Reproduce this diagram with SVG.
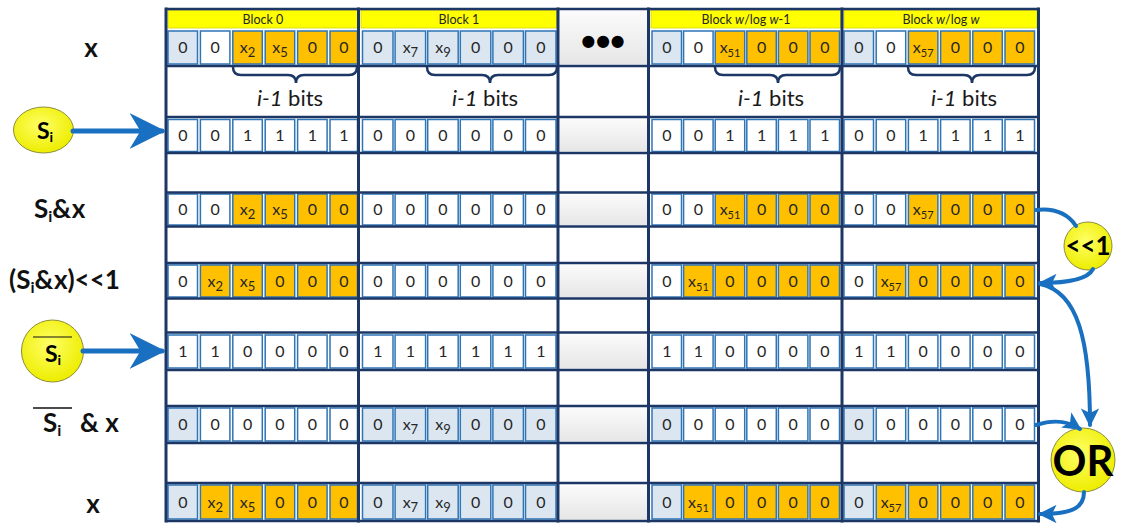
<svg xmlns="http://www.w3.org/2000/svg" width="1128" height="523" viewBox="0 0 1128 523">
<style>
.row rect{stroke:#2e75b6;stroke-width:1.5}
.c{fill:#fff}.b{fill:#dce6f1}.o{fill:#ffc000}
.row text{font-family:Lato,"Liberation Sans",sans-serif;font-size:16px;fill:#262626;text-anchor:middle}
.sub{font-size:13px}
.sub2{font-size:11px}
.hdr rect{fill:#ffff00;stroke:#d4d400;stroke-width:0.8}
.hdr text{font-family:Lato,"Liberation Sans",sans-serif;font-size:12.5px;fill:#262626;text-anchor:middle}
.nv{stroke:#1c3766;stroke-width:3;fill:none}
.nh{stroke:#1c3766;stroke-width:2.5;fill:none}
.el{fill:url(#gray);stroke:none}
.brace{stroke:#1c3766;stroke-width:2.5;fill:none}
.bits{font-family:Lato,"Liberation Sans",sans-serif;font-size:22px;fill:#1a1a1a;text-anchor:middle}
.lbl{font-family:Lato,"Liberation Sans",sans-serif;font-size:26px;font-weight:bold;fill:#111}
.circ{fill:url(#yel);stroke:#8c8c3c;stroke-width:1}
.ct{font-family:Lato,"Liberation Sans",sans-serif;font-weight:bold;fill:#000;text-anchor:middle}
.con{stroke:#1a70c0;fill:none;stroke-linecap:round}
</style>
<defs>
<linearGradient id="gray" x1="0" y1="0" x2="0" y2="1"><stop offset="0" stop-color="#fbfbfb"/><stop offset="1" stop-color="#e6e6e6"/></linearGradient>
<radialGradient id="yel" cx="0.45" cy="0.4" r="0.6"><stop offset="0" stop-color="#ffff66"/><stop offset="1" stop-color="#eded00"/></radialGradient>
<marker id="stealth" viewBox="0 0 10 10" refX="9" refY="5" markerWidth="7.2" markerHeight="7.2" orient="auto" markerUnits="strokeWidth"><path d="M0,0 L10,5 L0,10 L3,5 z" fill="#1a70c0"/></marker>
<marker id="tri" viewBox="0 0 10 10" refX="9" refY="5" markerWidth="4.6" markerHeight="4.6" orient="auto" markerUnits="strokeWidth"><path d="M0,0 L10,5 L0,10 L2.5,5 z" fill="#1a70c0"/></marker>
</defs>
<rect width="1128" height="523" fill="#fff"/>

<g id="headers" class="hdr">
<rect x="168" y="10.5" width="189.5" height="17.5"/><text x="263" y="24">Block 0</text>
<rect x="361" y="10.5" width="195.5" height="17.5"/><text x="459" y="24">Block 1</text>
<rect x="651" y="10.5" width="189.5" height="17.5"/><text x="746" y="24">Block <tspan font-style="italic">w</tspan>/log <tspan font-style="italic">w</tspan>-1</text>
<rect x="844" y="10.5" width="193" height="17.5"/><text x="941" y="24">Block <tspan font-style="italic">w</tspan>/log <tspan font-style="italic">w</tspan></text>
</g>

<g id="ellipsis">
<rect class="el" x="560" y="10.5" width="87" height="54"/>
<text x="603" y="56" font-family="Liberation Sans,sans-serif" font-size="42" font-weight="bold" fill="#000" text-anchor="middle">•••</text>
<rect class="el" x="560" y="118.5" width="87" height="33"/>
<rect class="el" x="560" y="193.5" width="87" height="32"/>
<rect class="el" x="560" y="264.5" width="87" height="33"/>
<rect class="el" x="560" y="333.5" width="87" height="35"/>
<rect class="el" x="560" y="407.5" width="87" height="34"/>
<rect class="el" x="560" y="484.5" width="87" height="35"/>
</g>

<g id="row-x" class="row" transform="translate(0,31)">
<rect class="b" x="168" width="29.5" height="33"/><text x="182.8" y="22">0</text>
<rect class="c" x="200.4" width="29.5" height="33"/><text x="215.2" y="22">0</text>
<rect class="o" x="232.8" width="29.5" height="33"/><text x="247.6" y="22">x<tspan class="sub" dy="4">2</tspan></text>
<rect class="o" x="265.2" width="29.5" height="33"/><text x="280" y="22">x<tspan class="sub" dy="4">5</tspan></text>
<rect class="o" x="297.6" width="29.5" height="33"/><text x="312.4" y="22">0</text>
<rect class="o" x="330" width="27.5" height="33"/><text x="343.8" y="22">0</text>
<rect class="b" x="362.5" width="30.5" height="33"/><text x="377.8" y="22">0</text>
<rect class="b" x="395.1" width="30.5" height="33"/><text x="410.4" y="22">x<tspan class="sub" dy="4">7</tspan></text>
<rect class="b" x="427.7" width="30.5" height="33"/><text x="443" y="22">x<tspan class="sub" dy="4">9</tspan></text>
<rect class="b" x="460.3" width="30.5" height="33"/><text x="475.6" y="22">0</text>
<rect class="b" x="492.9" width="30.5" height="33"/><text x="508.2" y="22">0</text>
<rect class="b" x="525.5" width="30.5" height="33"/><text x="540.8" y="22">0</text>
<rect class="b" x="652" width="29.5" height="33"/><text x="666.8" y="22">0</text>
<rect class="c" x="683.6" width="29.5" height="33"/><text x="698.4" y="22">0</text>
<rect class="o" x="715.2" width="29.5" height="33"/><text x="730" y="22">x<tspan class="sub2" dy="4">51</tspan></text>
<rect class="o" x="746.8" width="29.5" height="33"/><text x="761.6" y="22">0</text>
<rect class="o" x="778.4" width="29.5" height="33"/><text x="793.2" y="22">0</text>
<rect class="o" x="810" width="29.5" height="33"/><text x="824.8" y="22">0</text>
<rect class="b" x="844" width="29.5" height="33"/><text x="858.8" y="22">0</text>
<rect class="c" x="876.2" width="29.5" height="33"/><text x="891" y="22">0</text>
<rect class="o" x="908.4" width="29.5" height="33"/><text x="923.2" y="22">x<tspan class="sub2" dy="4">57</tspan></text>
<rect class="o" x="940.6" width="29.5" height="33"/><text x="955.4" y="22">0</text>
<rect class="o" x="972.8" width="29.5" height="33"/><text x="987.6" y="22">0</text>
<rect class="o" x="1005" width="29.5" height="33"/><text x="1019.8" y="22">0</text>
</g>

<g id="braces">
<path class="brace" d="M233,67 Q233,75 241,75 L288,75 Q296,75 296,83 Q296,75 304,75 L349,75 Q357,75 357,67"/>
<path class="brace" d="M427,67 Q427,75 435,75 L482,75 Q490,75 490,83 Q490,75 498,75 L549,75 Q557,75 557,67"/>
<path class="brace" d="M715,67 Q715,75 723,75 L770,75 Q778,75 778,83 Q778,75 786,75 L832,75 Q840,75 840,67"/>
<path class="brace" d="M908,67 Q908,75 916,75 L964,75 Q972,75 972,83 Q972,75 980,75 L1027,75 Q1035,75 1035,67"/>
<text class="bits" x="290" y="106"><tspan font-style="italic">i-1</tspan> bits</text>
<text class="bits" x="485" y="106"><tspan font-style="italic">i-1</tspan> bits</text>
<text class="bits" x="771" y="106"><tspan font-style="italic">i-1</tspan> bits</text>
<text class="bits" x="964" y="106"><tspan font-style="italic">i-1</tspan> bits</text>
</g>

<g id="row-si" class="row" transform="translate(0,119.5)">
<rect class="c" x="168" width="29.5" height="32"/><text x="182.8" y="21.5">0</text>
<rect class="c" x="200.4" width="29.5" height="32"/><text x="215.2" y="21.5">0</text>
<rect class="c" x="232.8" width="29.5" height="32"/><text x="247.6" y="21.5">1</text>
<rect class="c" x="265.2" width="29.5" height="32"/><text x="280" y="21.5">1</text>
<rect class="c" x="297.6" width="29.5" height="32"/><text x="312.4" y="21.5">1</text>
<rect class="c" x="330" width="27.5" height="32"/><text x="343.8" y="21.5">1</text>
<rect class="c" x="362.5" width="30.5" height="32"/><text x="377.8" y="21.5">0</text>
<rect class="c" x="395.1" width="30.5" height="32"/><text x="410.4" y="21.5">0</text>
<rect class="c" x="427.7" width="30.5" height="32"/><text x="443" y="21.5">0</text>
<rect class="c" x="460.3" width="30.5" height="32"/><text x="475.6" y="21.5">0</text>
<rect class="c" x="492.9" width="30.5" height="32"/><text x="508.2" y="21.5">0</text>
<rect class="c" x="525.5" width="30.5" height="32"/><text x="540.8" y="21.5">0</text>
<rect class="c" x="652" width="29.5" height="32"/><text x="666.8" y="21.5">0</text>
<rect class="c" x="683.6" width="29.5" height="32"/><text x="698.4" y="21.5">0</text>
<rect class="c" x="715.2" width="29.5" height="32"/><text x="730" y="21.5">1</text>
<rect class="c" x="746.8" width="29.5" height="32"/><text x="761.6" y="21.5">1</text>
<rect class="c" x="778.4" width="29.5" height="32"/><text x="793.2" y="21.5">1</text>
<rect class="c" x="810" width="29.5" height="32"/><text x="824.8" y="21.5">1</text>
<rect class="c" x="844" width="29.5" height="32"/><text x="858.8" y="21.5">0</text>
<rect class="c" x="876.2" width="29.5" height="32"/><text x="891" y="21.5">0</text>
<rect class="c" x="908.4" width="29.5" height="32"/><text x="923.2" y="21.5">1</text>
<rect class="c" x="940.6" width="29.5" height="32"/><text x="955.4" y="21.5">1</text>
<rect class="c" x="972.8" width="29.5" height="32"/><text x="987.6" y="21.5">1</text>
<rect class="c" x="1005" width="29.5" height="32"/><text x="1019.8" y="21.5">1</text>
</g>

<g id="row-si-and-x" class="row" transform="translate(0,194)">
<rect class="c" x="168" width="29.5" height="31"/><text x="182.8" y="21">0</text>
<rect class="c" x="200.4" width="29.5" height="31"/><text x="215.2" y="21">0</text>
<rect class="o" x="232.8" width="29.5" height="31"/><text x="247.6" y="21">x<tspan class="sub" dy="4">2</tspan></text>
<rect class="o" x="265.2" width="29.5" height="31"/><text x="280" y="21">x<tspan class="sub" dy="4">5</tspan></text>
<rect class="o" x="297.6" width="29.5" height="31"/><text x="312.4" y="21">0</text>
<rect class="o" x="330" width="27.5" height="31"/><text x="343.8" y="21">0</text>
<rect class="c" x="362.5" width="30.5" height="31"/><text x="377.8" y="21">0</text>
<rect class="c" x="395.1" width="30.5" height="31"/><text x="410.4" y="21">0</text>
<rect class="c" x="427.7" width="30.5" height="31"/><text x="443" y="21">0</text>
<rect class="c" x="460.3" width="30.5" height="31"/><text x="475.6" y="21">0</text>
<rect class="c" x="492.9" width="30.5" height="31"/><text x="508.2" y="21">0</text>
<rect class="c" x="525.5" width="30.5" height="31"/><text x="540.8" y="21">0</text>
<rect class="c" x="652" width="29.5" height="31"/><text x="666.8" y="21">0</text>
<rect class="c" x="683.6" width="29.5" height="31"/><text x="698.4" y="21">0</text>
<rect class="o" x="715.2" width="29.5" height="31"/><text x="730" y="21">x<tspan class="sub2" dy="4">51</tspan></text>
<rect class="o" x="746.8" width="29.5" height="31"/><text x="761.6" y="21">0</text>
<rect class="o" x="778.4" width="29.5" height="31"/><text x="793.2" y="21">0</text>
<rect class="o" x="810" width="29.5" height="31"/><text x="824.8" y="21">0</text>
<rect class="c" x="844" width="29.5" height="31"/><text x="858.8" y="21">0</text>
<rect class="c" x="876.2" width="29.5" height="31"/><text x="891" y="21">0</text>
<rect class="o" x="908.4" width="29.5" height="31"/><text x="923.2" y="21">x<tspan class="sub2" dy="4">57</tspan></text>
<rect class="o" x="940.6" width="29.5" height="31"/><text x="955.4" y="21">0</text>
<rect class="o" x="972.8" width="29.5" height="31"/><text x="987.6" y="21">0</text>
<rect class="o" x="1005" width="29.5" height="31"/><text x="1019.8" y="21">0</text>
</g>

<g id="row-shift" class="row" transform="translate(0,265)">
<rect class="c" x="168" width="29.5" height="32"/><text x="182.8" y="21.5">0</text>
<rect class="o" x="200.4" width="29.5" height="32"/><text x="215.2" y="21.5">x<tspan class="sub" dy="4">2</tspan></text>
<rect class="o" x="232.8" width="29.5" height="32"/><text x="247.6" y="21.5">x<tspan class="sub" dy="4">5</tspan></text>
<rect class="o" x="265.2" width="29.5" height="32"/><text x="280" y="21.5">0</text>
<rect class="o" x="297.6" width="29.5" height="32"/><text x="312.4" y="21.5">0</text>
<rect class="o" x="330" width="27.5" height="32"/><text x="343.8" y="21.5">0</text>
<rect class="c" x="362.5" width="30.5" height="32"/><text x="377.8" y="21.5">0</text>
<rect class="c" x="395.1" width="30.5" height="32"/><text x="410.4" y="21.5">0</text>
<rect class="c" x="427.7" width="30.5" height="32"/><text x="443" y="21.5">0</text>
<rect class="c" x="460.3" width="30.5" height="32"/><text x="475.6" y="21.5">0</text>
<rect class="c" x="492.9" width="30.5" height="32"/><text x="508.2" y="21.5">0</text>
<rect class="c" x="525.5" width="30.5" height="32"/><text x="540.8" y="21.5">0</text>
<rect class="c" x="652" width="29.5" height="32"/><text x="666.8" y="21.5">0</text>
<rect class="o" x="683.6" width="29.5" height="32"/><text x="698.4" y="21.5">x<tspan class="sub2" dy="4">51</tspan></text>
<rect class="o" x="715.2" width="29.5" height="32"/><text x="730" y="21.5">0</text>
<rect class="o" x="746.8" width="29.5" height="32"/><text x="761.6" y="21.5">0</text>
<rect class="o" x="778.4" width="29.5" height="32"/><text x="793.2" y="21.5">0</text>
<rect class="o" x="810" width="29.5" height="32"/><text x="824.8" y="21.5">0</text>
<rect class="c" x="844" width="29.5" height="32"/><text x="858.8" y="21.5">0</text>
<rect class="o" x="876.2" width="29.5" height="32"/><text x="891" y="21.5">x<tspan class="sub2" dy="4">57</tspan></text>
<rect class="o" x="908.4" width="29.5" height="32"/><text x="923.2" y="21.5">0</text>
<rect class="o" x="940.6" width="29.5" height="32"/><text x="955.4" y="21.5">0</text>
<rect class="o" x="972.8" width="29.5" height="32"/><text x="987.6" y="21.5">0</text>
<rect class="o" x="1005" width="29.5" height="32"/><text x="1019.8" y="21.5">0</text>
</g>

<g id="row-not-si" class="row" transform="translate(0,335)">
<rect class="c" x="168" width="29.5" height="33"/><text x="182.8" y="22">1</text>
<rect class="c" x="200.4" width="29.5" height="33"/><text x="215.2" y="22">1</text>
<rect class="c" x="232.8" width="29.5" height="33"/><text x="247.6" y="22">0</text>
<rect class="c" x="265.2" width="29.5" height="33"/><text x="280" y="22">0</text>
<rect class="c" x="297.6" width="29.5" height="33"/><text x="312.4" y="22">0</text>
<rect class="c" x="330" width="27.5" height="33"/><text x="343.8" y="22">0</text>
<rect class="c" x="362.5" width="30.5" height="33"/><text x="377.8" y="22">1</text>
<rect class="c" x="395.1" width="30.5" height="33"/><text x="410.4" y="22">1</text>
<rect class="c" x="427.7" width="30.5" height="33"/><text x="443" y="22">1</text>
<rect class="c" x="460.3" width="30.5" height="33"/><text x="475.6" y="22">1</text>
<rect class="c" x="492.9" width="30.5" height="33"/><text x="508.2" y="22">1</text>
<rect class="c" x="525.5" width="30.5" height="33"/><text x="540.8" y="22">1</text>
<rect class="c" x="652" width="29.5" height="33"/><text x="666.8" y="22">1</text>
<rect class="c" x="683.6" width="29.5" height="33"/><text x="698.4" y="22">1</text>
<rect class="c" x="715.2" width="29.5" height="33"/><text x="730" y="22">0</text>
<rect class="c" x="746.8" width="29.5" height="33"/><text x="761.6" y="22">0</text>
<rect class="c" x="778.4" width="29.5" height="33"/><text x="793.2" y="22">0</text>
<rect class="c" x="810" width="29.5" height="33"/><text x="824.8" y="22">0</text>
<rect class="c" x="844" width="29.5" height="33"/><text x="858.8" y="22">1</text>
<rect class="c" x="876.2" width="29.5" height="33"/><text x="891" y="22">1</text>
<rect class="c" x="908.4" width="29.5" height="33"/><text x="923.2" y="22">0</text>
<rect class="c" x="940.6" width="29.5" height="33"/><text x="955.4" y="22">0</text>
<rect class="c" x="972.8" width="29.5" height="33"/><text x="987.6" y="22">0</text>
<rect class="c" x="1005" width="29.5" height="33"/><text x="1019.8" y="22">0</text>
</g>

<g id="row-not-si-and-x" class="row" transform="translate(0,408)">
<rect class="b" x="168" width="29.5" height="33"/><text x="182.8" y="22">0</text>
<rect class="c" x="200.4" width="29.5" height="33"/><text x="215.2" y="22">0</text>
<rect class="c" x="232.8" width="29.5" height="33"/><text x="247.6" y="22">0</text>
<rect class="c" x="265.2" width="29.5" height="33"/><text x="280" y="22">0</text>
<rect class="c" x="297.6" width="29.5" height="33"/><text x="312.4" y="22">0</text>
<rect class="c" x="330" width="27.5" height="33"/><text x="343.8" y="22">0</text>
<rect class="b" x="362.5" width="30.5" height="33"/><text x="377.8" y="22">0</text>
<rect class="b" x="395.1" width="30.5" height="33"/><text x="410.4" y="22">x<tspan class="sub" dy="4">7</tspan></text>
<rect class="b" x="427.7" width="30.5" height="33"/><text x="443" y="22">x<tspan class="sub" dy="4">9</tspan></text>
<rect class="b" x="460.3" width="30.5" height="33"/><text x="475.6" y="22">0</text>
<rect class="b" x="492.9" width="30.5" height="33"/><text x="508.2" y="22">0</text>
<rect class="b" x="525.5" width="30.5" height="33"/><text x="540.8" y="22">0</text>
<rect class="b" x="652" width="29.5" height="33"/><text x="666.8" y="22">0</text>
<rect class="c" x="683.6" width="29.5" height="33"/><text x="698.4" y="22">0</text>
<rect class="c" x="715.2" width="29.5" height="33"/><text x="730" y="22">0</text>
<rect class="c" x="746.8" width="29.5" height="33"/><text x="761.6" y="22">0</text>
<rect class="c" x="778.4" width="29.5" height="33"/><text x="793.2" y="22">0</text>
<rect class="c" x="810" width="29.5" height="33"/><text x="824.8" y="22">0</text>
<rect class="b" x="844" width="29.5" height="33"/><text x="858.8" y="22">0</text>
<rect class="c" x="876.2" width="29.5" height="33"/><text x="891" y="22">0</text>
<rect class="c" x="908.4" width="29.5" height="33"/><text x="923.2" y="22">0</text>
<rect class="c" x="940.6" width="29.5" height="33"/><text x="955.4" y="22">0</text>
<rect class="c" x="972.8" width="29.5" height="33"/><text x="987.6" y="22">0</text>
<rect class="c" x="1005" width="29.5" height="33"/><text x="1019.8" y="22">0</text>
</g>

<g id="row-result" class="row" transform="translate(0,485)">
<rect class="b" x="168" width="29.5" height="34"/><text x="182.8" y="22.5">0</text>
<rect class="o" x="200.4" width="29.5" height="34"/><text x="215.2" y="22.5">x<tspan class="sub" dy="4">2</tspan></text>
<rect class="o" x="232.8" width="29.5" height="34"/><text x="247.6" y="22.5">x<tspan class="sub" dy="4">5</tspan></text>
<rect class="o" x="265.2" width="29.5" height="34"/><text x="280" y="22.5">0</text>
<rect class="o" x="297.6" width="29.5" height="34"/><text x="312.4" y="22.5">0</text>
<rect class="o" x="330" width="27.5" height="34"/><text x="343.8" y="22.5">0</text>
<rect class="b" x="362.5" width="30.5" height="34"/><text x="377.8" y="22.5">0</text>
<rect class="b" x="395.1" width="30.5" height="34"/><text x="410.4" y="22.5">x<tspan class="sub" dy="4">7</tspan></text>
<rect class="b" x="427.7" width="30.5" height="34"/><text x="443" y="22.5">x<tspan class="sub" dy="4">9</tspan></text>
<rect class="b" x="460.3" width="30.5" height="34"/><text x="475.6" y="22.5">0</text>
<rect class="b" x="492.9" width="30.5" height="34"/><text x="508.2" y="22.5">0</text>
<rect class="b" x="525.5" width="30.5" height="34"/><text x="540.8" y="22.5">0</text>
<rect class="b" x="652" width="29.5" height="34"/><text x="666.8" y="22.5">0</text>
<rect class="o" x="683.6" width="29.5" height="34"/><text x="698.4" y="22.5">x<tspan class="sub2" dy="4">51</tspan></text>
<rect class="o" x="715.2" width="29.5" height="34"/><text x="730" y="22.5">0</text>
<rect class="o" x="746.8" width="29.5" height="34"/><text x="761.6" y="22.5">0</text>
<rect class="o" x="778.4" width="29.5" height="34"/><text x="793.2" y="22.5">0</text>
<rect class="o" x="810" width="29.5" height="34"/><text x="824.8" y="22.5">0</text>
<rect class="b" x="844" width="29.5" height="34"/><text x="858.8" y="22.5">0</text>
<rect class="o" x="876.2" width="29.5" height="34"/><text x="891" y="22.5">x<tspan class="sub2" dy="4">57</tspan></text>
<rect class="o" x="908.4" width="29.5" height="34"/><text x="923.2" y="22.5">0</text>
<rect class="o" x="940.6" width="29.5" height="34"/><text x="955.4" y="22.5">0</text>
<rect class="o" x="972.8" width="29.5" height="34"/><text x="987.6" y="22.5">0</text>
<rect class="o" x="1005" width="29.5" height="34"/><text x="1019.8" y="22.5">0</text>
</g>

<g id="grid-lines">
<path class="nh" d="M166,9H1038.5M166,66H1038.5M166,117H1038.5M166,153H1038.5M166,192.5H1038.5M166,226.5H1038.5M166,263H1038.5M166,298.5H1038.5M166,332.5H1038.5M166,370H1038.5M166,406H1038.5M166,443H1038.5M166,483H1038.5M166,521H1038.5"/>
<path class="nv" d="M166,7.5V522.5M358.5,7.5V522.5M558,7.5V522.5M648.5,7.5V522.5M842,7.5V522.5M1038.5,7.5V522.5"/>
</g>

<g id="labels">
<text class="lbl" x="91" y="57" text-anchor="middle">x</text>
<text class="lbl" x="34" y="218">S<tspan font-size="16" dy="4">i</tspan><tspan dy="-4">&amp;x</tspan></text>
<text class="lbl" x="9" y="289">(S<tspan font-size="16" dy="4">i</tspan><tspan dy="-4">&amp;x)&lt;&lt;1</tspan></text>
<line x1="33" y1="408" x2="72" y2="408" stroke="#111" stroke-width="1.3"/>
<text class="lbl" x="43" y="432">S<tspan font-size="16" dy="4">i</tspan><tspan x="80" dy="-4">&amp; x</tspan></text>
<text class="lbl" x="93" y="513" text-anchor="middle">x</text>
</g>

<g id="node-si">
<ellipse class="circ" cx="43.5" cy="130" rx="30" ry="23"/>
<text class="ct" x="45" y="139" font-size="23">S<tspan font-size="14" dy="3">i</tspan></text>
</g>
<g id="node-not-si">
<circle class="circ" cx="52.5" cy="351" r="31"/>
<line x1="33" y1="337" x2="72" y2="337" stroke="#111" stroke-width="1.2"/>
<text class="ct" x="53" y="362" font-size="23">S<tspan font-size="14" dy="3">i</tspan></text>
</g>
<g id="node-shift">
<circle class="circ" cx="1088" cy="246" r="24"/>
<text class="ct" x="1088" y="255" font-size="26">&lt;&lt;1</text>
</g>
<g id="node-or">
<circle class="circ" cx="1083" cy="460" r="32"/>
<text class="ct" x="1083" y="476" font-size="42">OR</text>
</g>

<g id="connectors">
<path class="con" stroke-width="5" d="M73,131 H162" marker-end="url(#stealth)"/>
<path class="con" stroke-width="5" d="M83,351 H162" marker-end="url(#stealth)"/>
<path class="con" stroke-width="4" d="M1036,210 C1054,208 1068,214 1076,226"/>
<path class="con" stroke-width="4" d="M1093,269 C1088,279 1068,283 1040,283" marker-end="url(#tri)"/>
<path class="con" stroke-width="4" d="M1040,284 C1078,292 1090,340 1090,425" marker-end="url(#tri)"/>
<path class="con" stroke-width="4" d="M1036,425 C1055,419 1068,421 1080,429" marker-end="url(#tri)"/>
<path class="con" stroke-width="4" d="M1084,492 C1084,508 1072,514 1040,514" marker-end="url(#tri)"/>
</g>
</svg>
